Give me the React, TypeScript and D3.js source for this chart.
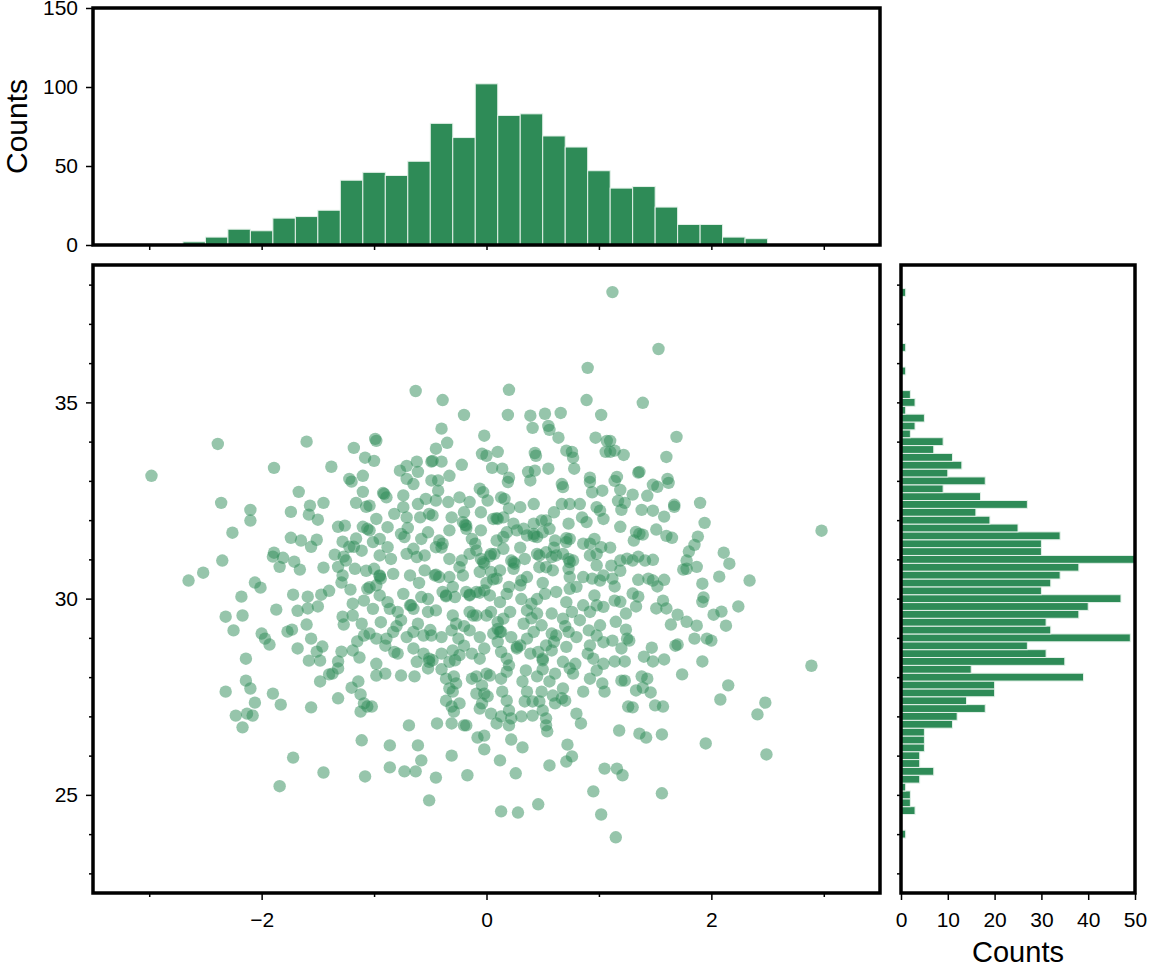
import React, { useEffect, useRef } from 'react';
import * as d3 from 'd3';

// scatter points [x, y]
const points: [number, number][] = [
  // outer / top-left
  [-2.39, 33.94], [-1.6, 34.0], [-1.18, 33.84], [-1.08, 33.59], [-1.89, 33.33], [-1.38, 33.36],
  [-2.98, 33.13], [-1.22, 33.05], [-1.1, 33.13],
  // top centre
  [1.12, 37.81], [0.9, 35.88], [-0.63, 35.29], [0.2, 35.32], [-0.39, 35.06], [0.89, 35.06],
  [-0.2, 34.68], [0.19, 34.68], [0.39, 34.66], [0.52, 34.71], [0.66, 34.73], [1.02, 34.68],
  [0.41, 34.35], [0.55, 34.4], [0.56, 34.3], [0.64, 34.1], [-0.4, 34.33], [-0.99, 34.07],
  [-0.98, 34.02], [-0.02, 34.15], [-0.35, 33.97], [0.97, 34.1], [1.07, 34.02], [-0.45, 33.82],
  [-0.04, 33.69], [0.0, 33.64], [0.1, 33.74], [0.43, 33.71], [0.44, 33.64], [0.71, 33.77],
  [0.76, 33.74], [0.77, 33.59], [1.06, 33.74], [-1.0, 33.51], [-0.71, 33.38], [-0.62, 33.49],
  [-0.49, 33.49], [-0.48, 33.51], [-0.4, 33.49], [-0.22, 33.41], [-0.61, 33.23], [-0.77, 33.26],
  [0.05, 33.33], [0.14, 33.31], [0.37, 33.23], [0.43, 33.26], [0.55, 33.31], [0.78, 33.31],
  [-0.33, 33.13], [0.2, 33.08], [0.92, 33.08],
  // top right
  [1.53, 36.36], [1.39, 34.99], [1.69, 34.12], [1.1, 34.02], [1.14, 33.77], [1.22, 33.66],
  [1.1, 33.74], [1.6, 33.61], [1.16, 33.1], [1.35, 33.21], [1.36, 33.23], [1.61, 33.05],
  // middle left
  [-1.67, 32.72], [-2.36, 32.44], [-2.1, 32.26], [-2.1, 31.99], [-1.74, 32.21], [-1.57, 32.37],
  [-1.45, 32.44], [-1.58, 32.14], [-1.5, 32.01], [-1.2, 32.98], [-1.1, 32.72], [-1.16, 32.44],
  [-1.07, 32.34], [-2.26, 31.68], [-1.74, 31.55], [-1.65, 31.48], [-1.51, 31.5], [-1.56, 31.32],
  [-1.32, 31.83], [-1.26, 31.86], [-1.1, 31.83], [-1.06, 31.78], [-1.28, 31.45], [-1.16, 31.53],
  [-1.22, 31.32], [-1.11, 31.22], [-1.35, 31.12], [-1.27, 31.07], [-1.18, 31.32], [-1.89, 31.17],
  [-1.9, 31.07], [-1.81, 31.04], [-1.84, 30.81], [-1.71, 30.94], [-1.66, 30.74], [-1.45, 30.79],
  [-1.32, 30.81], [-1.25, 30.97], [-1.17, 30.76], [-1.07, 30.71], [-2.35, 30.97], [-2.52, 30.66],
  [-2.65, 30.46], [-1.28, 30.59], [-1.29, 30.41], [-2.06, 30.41], [-2.01, 30.28], [-1.21, 30.23],
  [-2.18, 30.05], [-1.72, 30.1], [-1.59, 30.05], [-1.47, 30.1], [-1.4, 30.2], [-1.06, 30.25],
  [-1.5, 29.8], [-1.87, 29.72], [-1.68, 29.69], [-1.59, 29.75], [-1.19, 29.87], [-1.09, 29.95],
  [-2.32, 29.54], [-2.17, 29.57], [-1.28, 29.54], [-1.19, 29.57], [-1.27, 29.34], [-1.11, 29.36],
  [-2.25, 29.19], [-2.0, 29.11], [-1.77, 29.16], [-1.73, 29.21], [-1.6, 29.34], [-1.97, 28.98],
  [-1.93, 28.83], [-1.56, 28.98], [-1.68, 28.73], [-1.46, 28.78], [-1.51, 28.65], [-1.15, 28.91],
  [-1.09, 29.06], [-1.29, 28.65], [-1.19, 28.68], [-1.13, 28.5], [-2.14, 28.47], [-1.58, 28.42],
  [-1.48, 28.42], [-1.32, 28.4],
  // middle right
  [1.14, 33.0], [1.48, 32.9], [1.52, 32.85], [1.62, 32.95], [1.19, 32.77], [1.3, 32.65],
  [1.43, 32.62], [1.17, 32.49], [1.23, 32.44], [1.2, 32.26], [1.38, 32.26], [1.48, 32.24],
  [1.67, 32.39], [1.67, 32.34], [1.9, 32.44], [1.58, 32.09], [1.94, 31.93], [1.19, 31.83],
  [1.33, 31.7], [1.36, 31.65], [1.39, 31.63], [1.31, 31.48], [1.51, 31.76], [1.6, 31.6],
  [1.65, 31.55], [2.98, 31.73], [1.88, 31.58], [1.85, 31.37], [1.8, 31.2], [2.11, 31.17],
  [2.16, 30.89], [1.1, 31.3], [1.25, 31.02], [1.35, 31.07], [1.41, 30.97], [1.48, 30.99],
  [1.3, 30.97], [1.19, 30.97], [1.11, 30.84], [1.19, 30.71], [1.78, 30.97], [1.75, 30.74],
  [1.78, 30.76], [1.87, 30.81], [2.07, 30.56], [2.34, 30.46], [1.92, 30.38], [1.35, 30.48],
  [1.44, 30.51], [1.48, 30.46], [1.58, 30.48], [1.52, 30.31], [1.12, 30.51], [1.14, 30.31],
  [1.3, 30.13], [1.35, 30.05], [1.93, 30.03], [1.92, 29.92], [1.14, 29.95], [1.19, 29.92],
  [1.33, 29.8], [1.57, 29.95], [1.6, 29.75], [1.51, 29.75], [2.24, 29.8], [2.02, 29.59],
  [2.09, 29.67], [1.7, 29.59], [1.24, 29.62], [1.15, 29.41], [1.64, 29.34], [1.78, 29.41],
  [1.87, 29.31], [2.13, 29.31], [1.24, 29.21], [1.25, 28.98], [1.27, 28.93], [1.12, 28.93],
  [1.2, 28.73], [1.85, 28.98], [1.96, 28.98], [2.0, 28.93], [1.68, 28.8], [1.7, 28.83],
  [1.47, 28.75], [1.4, 28.52], [1.48, 28.4], [1.58, 28.45], [1.92, 28.4], [1.14, 28.4],
  [1.23, 28.4], [2.89, 28.29],
  // lower left
  [-2.32, 27.63], [-2.14, 27.91], [-2.1, 27.71], [-2.06, 27.35], [-2.23, 27.02], [-2.13, 27.07],
  [-2.08, 27.02], [-2.17, 26.72], [-1.9, 27.58], [-1.83, 27.3], [-1.56, 27.23], [-1.48, 27.89],
  [-1.4, 28.07], [-1.37, 28.09], [-1.32, 28.22], [-1.32, 27.46], [-1.2, 27.73], [-1.14, 27.89],
  [-1.12, 27.56], [-1.09, 27.33], [-1.06, 27.25], [-1.12, 27.12], [-1.11, 26.39], [-1.08, 25.47],
  [-1.72, 25.95], [-1.45, 25.57], [-1.84, 25.22],
  // lower centre
  [-0.69, 26.77], [-0.44, 26.82], [-0.86, 26.26], [-0.61, 26.26], [-0.86, 25.7], [-0.73, 25.6],
  [-0.63, 25.6], [-0.58, 25.88], [-0.45, 25.44], [-0.51, 24.86], [-0.31, 26.0], [-0.17, 25.5],
  [-0.02, 26.16], [0.12, 25.88], [0.26, 25.55], [0.13, 24.58], [0.28, 24.55], [0.46, 24.76],
  [0.56, 25.75], [0.72, 26.28], [0.71, 25.85], [0.76, 25.98], [0.8, 27.07], [0.84, 26.82],
  [1.05, 25.67], [0.95, 25.09], [1.02, 24.5], [0.32, 26.21], [0.22, 26.41], [-0.08, 26.46],
  [-0.02, 26.51], [-0.31, 26.82], [-0.2, 26.77], [-0.18, 26.77], [-1.02, 27.25], [-0.76, 28.04],
  [-0.64, 28.02], [-0.9, 28.09], [-0.98, 28.04], [-0.36, 27.96], [-0.29, 28.02], [-0.27, 27.84],
  [-0.33, 27.71], [-0.3, 27.63], [-0.13, 27.96], [-0.09, 28.02], [0.0, 28.09], [0.03, 28.04],
  [-0.04, 27.79], [-0.09, 27.58], [-0.02, 27.58], [0.01, 27.51], [-0.04, 27.33], [-0.06, 27.2],
  [-0.36, 27.4], [-0.31, 27.25], [-0.24, 27.33], [-0.29, 27.12], [0.04, 27.07], [0.13, 27.96],
  [0.18, 28.14], [0.14, 27.63], [0.18, 27.4], [0.2, 27.15], [0.22, 26.95], [0.2, 26.77],
  [0.13, 27.0], [0.09, 26.82], [0.31, 27.0], [0.32, 27.89], [0.36, 27.63], [0.34, 27.38],
  [0.41, 27.38], [0.45, 28.02], [0.49, 27.63], [0.47, 27.38], [0.5, 27.15], [0.41, 27.02],
  [0.53, 26.95], [0.53, 26.77], [0.54, 26.62], [0.56, 27.89], [0.61, 28.09], [0.59, 27.53],
  [0.61, 27.33], [0.68, 27.71], [0.67, 27.46], [0.7, 27.4], [0.77, 28.09], [0.86, 27.63],
  [0.92, 27.96], [1.03, 27.84], [1.05, 27.63], [0.98, 28.17], [0.74, 28.22], [-0.52, 28.22],
  [0.35, 28.17],
  // lower right
  [1.2, 27.91], [1.23, 27.91], [1.38, 28.02], [1.43, 27.96], [1.33, 27.66], [1.39, 27.73],
  [1.46, 27.61], [1.74, 28.07], [2.15, 27.79], [2.08, 27.43], [2.48, 27.35], [2.41, 27.05],
  [1.26, 27.25], [1.3, 27.23], [1.5, 27.28], [1.57, 27.25], [1.18, 26.64], [1.36, 26.56],
  [1.42, 26.46], [1.56, 26.54], [1.95, 26.31], [2.49, 26.03], [1.16, 25.67], [1.21, 25.5],
  [1.56, 25.04], [1.15, 23.92],
  // dense centre
  [-0.71, 33.05], [-0.65, 32.92], [-0.49, 33.01], [-0.43, 33.01], [-0.06, 32.8], [0.19, 32.97],
  [0.39, 33.01], [0.67, 32.92], [0.68, 32.84], [0.92, 32.97], [0.94, 32.71], [1.03, 32.75],
  [-0.91, 32.67], [-0.89, 32.58], [-0.74, 32.63], [-0.61, 32.41], [-0.54, 32.54], [-0.43, 32.75],
  [-0.45, 32.5], [-0.34, 32.46], [-0.24, 32.58], [-0.15, 32.46], [-0.03, 32.71], [0.01, 32.5],
  [0.13, 32.58], [0.16, 32.54], [0.3, 32.33], [0.42, 32.41], [0.67, 32.41], [0.74, 32.41],
  [0.83, 32.41], [0.98, 32.33], [1.01, 32.24],
  [-1.04, 32.37], [-0.98, 32.03], [-0.82, 32.16], [-0.74, 32.33], [-0.71, 32.07], [-0.59, 32.07],
  [-0.51, 32.16], [-0.48, 32.12], [-0.31, 32.07], [-0.21, 31.95], [-0.18, 31.86], [-0.05, 32.2],
  [0.06, 32.03], [0.1, 32.03], [0.15, 32.07], [0.24, 31.91], [0.33, 31.78], [0.42, 31.91],
  [0.49, 31.99], [0.53, 31.99], [0.73, 31.91], [0.85, 32.07], [0.89, 31.95], [1.04, 32.03],
  [-1.04, 31.74], [-1.01, 31.44], [-0.95, 31.52], [-0.88, 31.82], [-0.76, 31.65], [-0.73, 31.57],
  [-0.58, 31.52], [-0.52, 31.69], [-0.42, 31.48], [-0.39, 31.4], [-0.33, 31.74], [-0.18, 31.78],
  [-0.13, 31.52], [-0.05, 31.74], [0.09, 31.48], [0.15, 31.57], [0.18, 31.69], [0.27, 31.74],
  [0.36, 31.61], [0.42, 31.65], [0.45, 31.57], [0.5, 31.69], [0.56, 31.78], [0.61, 31.48],
  [0.71, 31.44], [0.74, 31.52], [0.86, 31.4], [0.92, 31.4], [0.96, 31.52], [1.02, 31.31],
  [-0.95, 31.1], [-0.88, 31.31], [-0.85, 31.01], [-0.71, 31.14], [-0.65, 31.27], [-0.62, 31.06],
  [-0.55, 31.1], [-0.45, 31.31], [-0.33, 31.01], [-0.22, 30.97], [-0.15, 31.14], [-0.09, 31.23],
  [-0.05, 31.01], [-0.02, 30.89], [0.04, 31.14], [0.07, 31.14], [0.15, 31.27], [0.22, 30.97],
  [0.25, 30.89], [0.34, 31.01], [0.45, 31.14], [0.47, 31.1], [0.53, 31.18], [0.58, 31.06],
  [0.62, 31.1], [0.68, 31.14], [0.73, 31.01], [0.77, 30.97], [0.92, 31.1], [0.98, 31.14],
  [0.98, 30.85],
  [-1.0, 30.76], [-0.95, 30.59], [-0.94, 30.51], [-0.83, 30.63], [-0.68, 30.59], [-0.55, 30.72],
  [-0.46, 30.59], [-0.42, 30.55], [-0.33, 30.55], [-0.24, 30.8], [-0.21, 30.59], [-0.06, 30.68],
  [0.04, 30.68], [0.09, 30.51], [0.12, 30.72], [0.24, 30.76], [0.31, 30.46], [0.36, 30.55],
  [0.47, 30.8], [0.53, 30.8], [0.59, 30.72], [0.73, 30.76], [0.74, 30.55], [0.86, 30.55],
  [0.94, 30.51], [1.01, 30.46], [1.04, 30.59],
  [-1.04, 30.29], [-0.98, 30.34], [-0.95, 30.08], [-0.88, 29.91], [-0.74, 30.12], [-0.67, 29.83],
  [-0.58, 30.04], [-0.52, 29.99], [-0.39, 30.17], [-0.36, 30.08], [-0.28, 30.04], [-0.18, 30.17],
  [-0.15, 30.08], [-0.09, 30.17], [-0.02, 30.21], [0.03, 30.08], [0.12, 29.91], [0.18, 30.12],
  [0.31, 29.99], [0.4, 29.87], [0.45, 29.99], [0.52, 30.12], [0.62, 30.17], [0.71, 29.91],
  [0.74, 30.25], [0.86, 29.83], [0.96, 30.08], [0.98, 29.83], [1.04, 29.79],
  [-1.01, 29.74], [-0.94, 29.4], [-0.86, 29.74], [-0.79, 29.66], [-0.76, 29.45], [-0.65, 29.74],
  [-0.61, 29.36], [-0.52, 29.66], [-0.45, 29.7], [-0.3, 29.57], [-0.27, 29.36], [-0.15, 29.66],
  [-0.09, 29.57], [0.0, 29.57], [0.04, 29.66], [0.15, 29.49], [0.21, 29.66], [0.33, 29.36],
  [0.36, 29.7], [0.45, 29.62], [0.49, 29.32], [0.58, 29.62], [0.68, 29.49], [0.76, 29.66],
  [0.83, 29.45], [0.92, 29.66], [1.01, 29.32],
  [-1.04, 29.11], [-0.98, 28.98], [-0.89, 28.98], [-0.83, 29.15], [-0.71, 29.02], [-0.65, 29.15],
  [-0.56, 29.06], [-0.49, 29.06], [-0.4, 29.02], [-0.31, 29.19], [-0.25, 28.98], [-0.15, 29.19],
  [-0.06, 29.02], [0.06, 29.11], [0.1, 29.23], [0.13, 29.15], [0.22, 29.02], [0.3, 28.81],
  [0.36, 28.98], [0.42, 29.15], [0.53, 28.81], [0.58, 29.11], [0.62, 29.06], [0.73, 29.15],
  [0.8, 29.02], [0.91, 29.19], [0.98, 29.06], [1.04, 28.89],
  [-0.82, 28.64], [-0.79, 28.6], [-0.65, 28.73], [-0.56, 28.6], [-0.51, 28.47], [-0.48, 28.43],
  [-0.4, 28.6], [-0.3, 28.68], [-0.28, 28.43], [-0.24, 28.56], [-0.13, 28.6], [-0.06, 28.47],
  [-0.02, 28.73], [0.13, 28.64], [0.18, 28.47], [0.27, 28.77], [0.39, 28.6], [0.46, 28.64],
  [0.5, 28.43], [0.58, 28.68], [0.68, 28.39], [0.71, 28.77], [0.79, 28.34], [0.92, 28.81],
  [0.95, 28.47], [1.04, 28.34], [-0.62, 28.39], [-0.98, 28.34],
  // overlapping (darker) spots in the centre
  [-0.92, 32.69], [-0.95, 30.57], [-0.19, 31.88], [0.09, 32.05], [-0.03, 30.93], [0.03, 31.08],
  [0.06, 30.49], [0.24, 30.93], [0.3, 30.34], [0.42, 31.59], [0.71, 31.54], [0.74, 30.93],
  [-0.12, 29.57], [-0.06, 30.15], [-0.15, 30.1], [0.12, 29.15], [0.27, 28.73], [0.5, 28.47],
  [-0.51, 28.39], [-0.33, 28.39], [-0.45, 30.61], [-0.36, 30.06], [-0.68, 29.83],
  [-0.6, 30.4], [-0.3, 30.3], [0.0, 30.4], [0.2, 30.3], [0.5, 30.4], [0.8, 30.3],
  [-0.8, 29.3], [-0.5, 29.2], [-0.2, 29.3], [0.1, 29.4], [0.4, 29.5], [0.7, 29.3],
  [-0.4, 31.3], [-0.1, 31.4], [0.3, 31.3], [0.6, 31.3], [-0.7, 31.8], [-0.2, 32.2],
  [0.2, 32.3], [0.6, 32.2], [-0.9, 28.8], [-0.2, 28.8], [0.1, 28.9], [0.6, 28.9],
  [0.9, 28.6], [-0.4, 28.2], [0.2, 28.3], [0.5, 28.2],
];

// top histogram: lower bin edges (width 0.2) and counts
const xBinLo = [
  -2.7, -2.5, -2.3, -2.1, -1.9, -1.7, -1.5, -1.3, -1.1, -0.9, -0.7, -0.5, -0.3,
  -0.1, 0.1, 0.3, 0.5, 0.7, 0.9, 1.1, 1.3, 1.5, 1.7, 1.9, 2.1, 2.3,
];
const xCounts = [
  2, 5, 10, 9, 17, 18, 22, 41, 46, 44, 53, 77, 68,
  102, 82, 83, 69, 62, 47, 36, 37, 24, 13, 13, 5, 4,
];

// right histogram: lower bin edges (width 0.2) and counts
const yBinLo = [
  23.9, 24.5, 24.7, 24.9, 25.1, 25.3, 25.5, 25.7, 25.9, 26.1, 26.3, 26.5, 26.7, 26.9,
  27.1, 27.3, 27.5, 27.7, 27.9, 28.1, 28.3, 28.5, 28.7, 28.9, 29.1, 29.3, 29.5, 29.7,
  29.9, 30.1, 30.3, 30.5, 30.7, 30.9, 31.1, 31.3, 31.5, 31.7, 31.9, 32.1, 32.3, 32.5,
  32.7, 32.9, 33.1, 33.3, 33.5, 33.7, 33.9, 34.1, 34.3, 34.5, 34.7, 34.9, 35.1, 35.7,
  36.3, 37.7,
];
const yCounts = [
  1, 3, 2, 2, 1, 4, 7, 4, 4, 5, 5, 5, 11, 12,
  18, 14, 20, 20, 39, 15, 35, 31, 27, 49, 32, 31, 38, 40,
  47, 30, 32, 34, 38, 50, 30, 30, 34, 25, 19, 16, 27, 17,
  9, 18, 10, 13, 11, 7, 9, 2, 3, 5, 1, 3, 2, 1,
  1, 1,
];

const xMajorTicks = [-2, 0, 2];
const xMinorTicks = [-3, -1, 1, 3];
const xAllTicks = [-3, -2, -1, 0, 1, 2, 3];
const yMajorTicks = [25, 30, 35];
const yAllTicks = [23, 24, 25, 26, 27, 28, 29, 30, 31, 32, 33, 34, 35, 36, 37, 38];
const topCountTicks = [0, 50, 100, 150];
const rightCountTicks = [0, 10, 20, 30, 40, 50];
const binWidth = 0.2;

const GREEN = '#2e8b57';
const FONT = '"Liberation Sans", Arial, Helvetica, sans-serif';

function App() {
  const ref = useRef<SVGSVGElement | null>(null);

  useEffect(() => {
    document.body.style.margin = '0';
    const svg = d3.select(ref.current);
    svg.selectAll('*').remove();

    const main = { left: 93, right: 880, top: 265, bottom: 893 };
    const topH = { top: 8, bottom: 245 };
    const side = { left: 901, right: 1135 };

    const x = d3.scaleLinear().domain([-3.5, 3.5]).range([main.left, main.right]);
    const y = d3.scaleLinear().domain([22.5, 38.5]).range([main.bottom, main.top]);
    const yTop = d3.scaleLinear().domain([0, 150]).range([topH.bottom, topH.top]);
    const xSide = d3.scaleLinear().domain([0, 50]).range([side.left, side.right]);
    const fmt = d3.format('d');

    const styleAxis = (g: any, size: number) => {
      g.select('.domain').remove();
      g.selectAll('line').attr('stroke', '#000').attr('stroke-width', 1.5);
      g.selectAll('text').attr('font-family', FONT).attr('font-size', size).attr('fill', '#000');
    };

    // ---- top histogram
    svg
      .append('g')
      .selectAll('rect')
      .data(xBinLo)
      .join('rect')
      .attr('x', (d) => x(d))
      .attr('width', (d) => x(d + binWidth) - x(d))
      .attr('y', (d, i) => yTop(xCounts[i]))
      .attr('height', (d, i) => yTop(0) - yTop(xCounts[i]))
      .attr('fill', GREEN)
      .attr('stroke', '#e4f1e9')
      .attr('stroke-width', 1);

    svg
      .append('g')
      .attr('transform', `translate(${main.left},0)`)
      .call(d3.axisLeft(yTop).tickValues(topCountTicks).tickSize(7).tickPadding(8).tickFormat(fmt))
      .call((g: any) => styleAxis(g, 21));
    svg
      .append('g')
      .attr('transform', `translate(0,${topH.bottom})`)
      .call(d3.axisBottom(x).tickValues(xAllTicks).tickSize(5).tickFormat(() => ''))
      .call((g: any) => styleAxis(g, 21));

    svg
      .append('rect')
      .attr('x', main.left)
      .attr('y', topH.top)
      .attr('width', main.right - main.left)
      .attr('height', topH.bottom - topH.top)
      .attr('fill', 'none')
      .attr('stroke', '#000')
      .attr('stroke-width', 3.5);

    svg
      .append('text')
      .attr('transform', `translate(27,${(topH.top + topH.bottom) / 2}) rotate(-90)`)
      .attr('text-anchor', 'middle')
      .attr('font-family', FONT)
      .attr('font-size', 30)
      .text('Counts');

    // ---- scatter
    svg
      .append('g')
      .selectAll('circle')
      .data(points)
      .join('circle')
      .attr('cx', (d) => x(d[0]))
      .attr('cy', (d) => y(d[1]))
      .attr('r', 6.2)
      .attr('fill', GREEN)
      .attr('fill-opacity', 0.5);

    svg
      .append('g')
      .attr('transform', `translate(${main.left},0)`)
      .call(d3.axisLeft(y).tickValues(yAllTicks.filter((t) => !yMajorTicks.includes(t))).tickSize(4).tickFormat(() => ''))
      .call((g: any) => styleAxis(g, 21));
    svg
      .append('g')
      .attr('transform', `translate(${main.left},0)`)
      .call(d3.axisLeft(y).tickValues(yMajorTicks).tickSize(7).tickPadding(8).tickFormat(fmt))
      .call((g: any) => styleAxis(g, 21));
    svg
      .append('g')
      .attr('transform', `translate(0,${main.bottom})`)
      .call(d3.axisBottom(x).tickValues(xMinorTicks).tickSize(4).tickFormat(() => ''))
      .call((g: any) => styleAxis(g, 21));
    svg
      .append('g')
      .attr('transform', `translate(0,${main.bottom})`)
      .call(d3.axisBottom(x).tickValues(xMajorTicks).tickSize(7).tickPadding(12).tickFormat(fmt))
      .call((g: any) => styleAxis(g, 21));

    svg
      .append('rect')
      .attr('x', main.left)
      .attr('y', main.top)
      .attr('width', main.right - main.left)
      .attr('height', main.bottom - main.top)
      .attr('fill', 'none')
      .attr('stroke', '#000')
      .attr('stroke-width', 3.5);

    // ---- right histogram
    svg
      .append('g')
      .selectAll('rect')
      .data(yBinLo)
      .join('rect')
      .attr('x', xSide(0))
      .attr('y', (d) => y(d + binWidth))
      .attr('height', (d) => y(d) - y(d + binWidth))
      .attr('width', (d, i) => xSide(yCounts[i]) - xSide(0))
      .attr('fill', GREEN)
      .attr('stroke', '#e4f1e9')
      .attr('stroke-width', 1);

    svg
      .append('g')
      .attr('transform', `translate(${side.left},0)`)
      .call(d3.axisLeft(y).tickValues(yAllTicks).tickSize(4).tickFormat(() => ''))
      .call((g: any) => styleAxis(g, 21));
    svg
      .append('g')
      .attr('transform', `translate(0,${main.bottom})`)
      .call(d3.axisBottom(xSide).tickValues(rightCountTicks).tickSize(7).tickPadding(12).tickFormat(fmt))
      .call((g: any) => styleAxis(g, 21));

    svg
      .append('rect')
      .attr('x', side.left)
      .attr('y', main.top)
      .attr('width', side.right - side.left)
      .attr('height', main.bottom - main.top)
      .attr('fill', 'none')
      .attr('stroke', '#000')
      .attr('stroke-width', 3.5);

    svg
      .append('text')
      .attr('x', (side.left + side.right) / 2)
      .attr('y', 962)
      .attr('text-anchor', 'middle')
      .attr('font-family', FONT)
      .attr('font-size', 29)
      .text('Counts');
  });

  return (
    <div>
      <svg ref={ref} width={1149} height={966} style={{ display: 'block' }}></svg>
    </div>
  );
}

export default App;
